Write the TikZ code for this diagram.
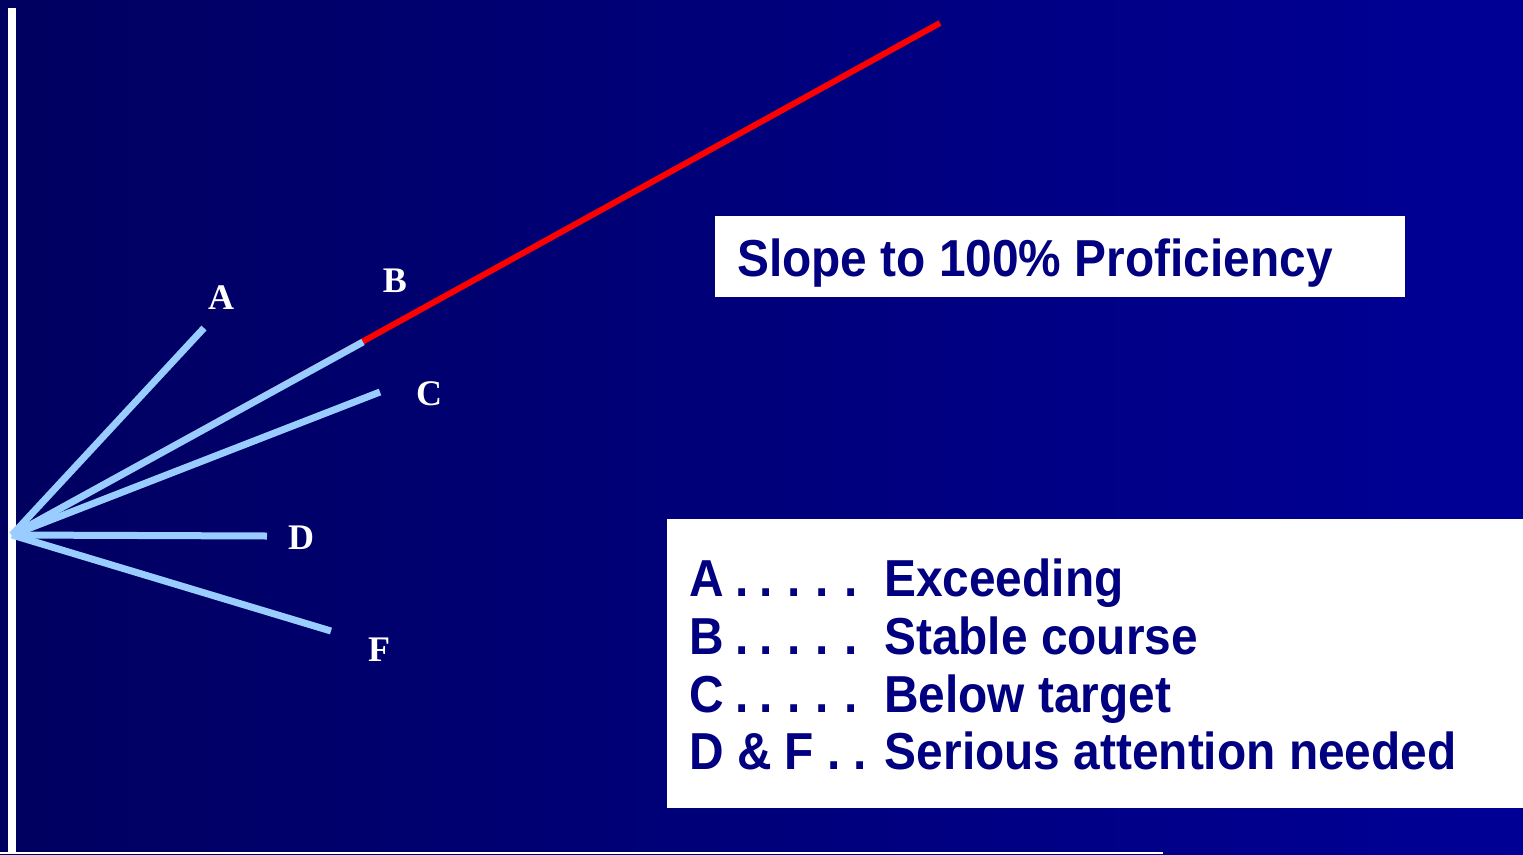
\documentclass[tikz,border=0pt]{standalone}
\usepackage{fontspec}
\setmainfont{Liberation Serif}
\newfontfamily\legendfont{Liberation Sans}[FakeStretch=0.92]
\usetikzlibrary{positioning}

\definecolor{bgdark}{RGB}{0,0,96}
\definecolor{bglight}{RGB}{0,0,150}
\definecolor{fanblue}{RGB}{153,204,255}
\definecolor{navytext}{RGB}{0,0,128}

\newcommand{\dotlead}[1]{\makebox[195pt][l]{#1\hspace{12pt}{\spaceskip=10.5pt . . . . .}}}

\tikzset{
  fanline/.style={draw=fanblue,line width=7pt},
  slopeline/.style={draw=red,line width=6pt},
  lbl/.style={text=white,font=\fontsize{36}{40}\selectfont\bfseries,inner sep=0pt},
  whitebox/.style={fill=white,draw=none,inner sep=0pt},
  boxtext/.style={text=navytext,font=\legendfont\fontsize{52}{58}\selectfont\bfseries,inner sep=0pt,anchor=base west}
}

\begin{document}
\begin{tikzpicture}[x=1pt,y=-1pt]
\useasboundingbox (0,0) rectangle (1523,854);
\shade[left color=bgdark,right color=bglight] (0,0) rectangle (1523,854);
\fill[white] (8,8) rectangle (16,854);
\fill[white] (0,852) rectangle (1163,854);

% fan of courses
\coordinate (start) at (12,535);
\coordinate (target) at (940,23);
\coordinate (endA) at (204,328);
\coordinate (endB) at (363,342);
\coordinate (endC) at (380,392);
\coordinate (endD) at (267,536);
\coordinate (endF) at (331,631);
\draw[slopeline] (start) -- (target);
\draw[fanline] (start) -- (endA);
\draw[fanline] (start) -- (endB);
\draw[fanline] (start) -- (endC);
\draw[fanline] (start) -- (endD);
\draw[fanline] (start) -- (endF);

\node[lbl] (labA) at (221,298) {A};
\node[lbl] (labB) at (395,281) {B};
\node[lbl] (labC) at (429,394) {C};
\node[lbl] (labD) at (301,538) {D};
\node[lbl] (labF) at (379,650) {F};

% boxes
\node[whitebox,minimum width=690pt,minimum height=81pt] (titlebox) at (1060,256.5) {};
\node[boxtext] (title) at (737,276) {Slope to 100\% Proficiency};

\node[whitebox,minimum width=856pt,minimum height=289pt] (legendbox) at (1095,663.5) {};
\node[boxtext] (rowA) at (689,596) {\dotlead{A}Exceeding};
\node[boxtext] (rowB) at (689,654) {\dotlead{B}Stable course};
\node[boxtext] (rowC) at (689,712) {\dotlead{C}Below target};
\node[boxtext] (rowDF) at (689,769) {D \& F . . Serious attention needed};
\end{tikzpicture}
\end{document}
